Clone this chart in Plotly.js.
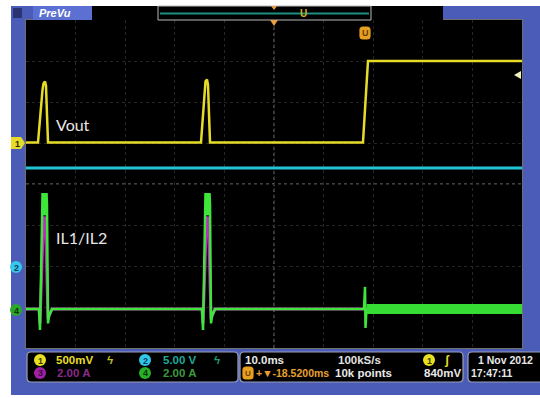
<!DOCTYPE html>
<html><head><meta charset="utf-8">
<script src="https://cdn.plot.ly/plotly-3.0.1.min.js"></script>
<style>html,body{margin:0;padding:0;background:#fff;}#chart{width:540px;height:398px;}</style>
</head><body><div id="chart"></div>
<script>
// ---- data (time in ms, 10 ms/div; amplitude in divisions) ----
const timeVout = [0, 2.42, 3.33, 3.53, 3.83, 4.03, 4.23, 4.44, 35.28, 35.99, 36.19, 36.49, 36.69, 36.9, 37.1, 67.94, 68.95, 100];
const vout     = [1.01, 1.01, 2.3, 2.45, 2.5, 2.4, 1.7, 1.01, 1.01, 2.35, 2.5, 2.55, 2.42, 1.7, 1.01, 1.01, 3.0, 3.0];
const timeCh2  = [0, 100];
const ch2      = [0.39, 0.39];
const timeIL3  = [0, 2.62, 2.82, 3.53, 3.73, 3.93, 4.44, 4.64, 5.24, 35.48, 35.69, 36.39, 36.59, 36.8, 37.3, 37.5, 38.1, 100];
const il3      = [-3.05, -3.05, -3.4, -0.85, -0.8, -0.9, -3.3, -3.22, -3.05, -3.05, -3.4, -0.85, -0.8, -0.9, -3.3, -3.22, -3.05, -3.05];
const timeIL4  = [0, 2.62, 2.82, 3.33, 3.43, 3.53, 3.63, 3.73, 3.83, 3.93, 4.03, 4.13, 4.23, 4.44, 4.64, 5.24,
                  35.48, 35.69, 36.19, 36.29, 36.39, 36.49, 36.59, 36.69, 36.8, 36.9, 37.0, 37.1, 37.3, 37.5, 38.1,
                  68.15, 68.35, 68.45, 68.65];
const il4      = [-3.05, -3.05, -3.56, -0.22, -0.76, -0.22, -0.76, -0.22, -0.76, -0.22, -0.76, -0.22, -0.5, -3.4, -3.22, -3.05,
                  -3.05, -3.56, -0.22, -0.76, -0.22, -0.76, -0.22, -0.76, -0.22, -0.76, -0.22, -0.5, -3.4, -3.22, -3.05,
                  -3.05, -2.51, -3.51, -3.05];
const timeIL4Noisy = [68.65, 100];
const il4Noisy     = [-3.05, -3.05];
const traceLabels  = ['Vout', 'IL1/IL2'];

// ---- geometry helpers (pixel -> paper) ----
const L = 26, R = 522, T = 20, B = 348;
const fx = p => (p - L) / (R - L);
const fy = p => (B - p) / (B - T);
const BLUE = '#4a5cb8';
function rect(x0, y0, x1, y1, fill, line, lw) {
  return {type:'rect', xref:'paper', yref:'paper', x0:fx(x0), x1:fx(x1), y0:fy(y1), y1:fy(y0),
    fillcolor:fill || 'rgba(0,0,0,0)', line:{color:line || 'rgba(0,0,0,0)', width:lw || 0}, layer:'above'};
}
function rrect(x0, y0, x1, y1, r, fill, line) {
  const P = (x, y) => fx(x) + ',' + fy(y);
  const d = 'M' + P(x0 + r, y0) + ' L' + P(x1 - r, y0) + ' Q' + P(x1, y0) + ' ' + P(x1, y0 + r) +
    ' L' + P(x1, y1 - r) + ' Q' + P(x1, y1) + ' ' + P(x1 - r, y1) + ' L' + P(x0 + r, y1) +
    ' Q' + P(x0, y1) + ' ' + P(x0, y1 - r) + ' L' + P(x0, y0 + r) + ' Q' + P(x0, y0) + ' ' + P(x0 + r, y0) + ' Z';
  return {type:'path', xref:'paper', yref:'paper', path:d, fillcolor:fill, line:{color:line, width:1.2}, layer:'above'};
}
function circ(cx, cy, r, fill) {
  return {type:'circle', xref:'paper', yref:'paper', x0:fx(cx - r), x1:fx(cx + r), y0:fy(cy + r), y1:fy(cy - r),
    fillcolor:fill, line:{width:0}, layer:'above'};
}
function poly(pts, fill) {
  const d = 'M' + pts.map(p => fx(p[0]) + ',' + fy(p[1])).join(' L') + ' Z';
  return {type:'path', xref:'paper', yref:'paper', path:d, fillcolor:fill, line:{width:0}, layer:'above'};
}
function hline(x0, x1, y, color, w, dash) {
  return {type:'line', xref:'paper', yref:'paper', x0:fx(x0), x1:fx(x1), y0:fy(y), y1:fy(y),
    line:{color:color, width:w, dash:dash || 'solid'}, layer:'above'};
}
const SF = 'Liberation Sans, Arial, sans-serif';
function txt(x, y, text, color, size, extra) {
  return Object.assign({xref:'paper', yref:'paper', x:fx(x), y:fy(y), text:text, showarrow:false,
    xanchor:'left', yanchor:'middle', borderpad:0, font:{family:SF, size:size || 11.5, color:color, weight:'bold'}}, extra || {});
}
function ntxt(x, y, text, color, size) {
  return txt(x, y, text, color, size, {font:{family:SF, size:size, color:color, weight:'normal'}});
}
function ctxt(x, y, text, color, size) {
  return txt(x, y, text, color, size, {xanchor:'center', font:{family:SF, size:size || 9, color:color, weight:'bold'}});
}

const traces = [
  {x:timeCh2, y:ch2, mode:'lines', line:{color:'#22c4d8', width:3}, hoverinfo:'skip'},
  {x:timeIL3, y:il3, mode:'lines', line:{color:'#c02cc0', width:3}, hoverinfo:'skip'},
  {x:timeIL4, y:il4, mode:'lines', line:{color:'#3ee63a', width:2.5}, hoverinfo:'skip'},
  {x:timeIL4Noisy, y:il4Noisy, mode:'lines', line:{color:'#36dc34', width:10}, hoverinfo:'skip'},
  {x:timeVout, y:vout, mode:'lines', line:{color:'#e6dc28', width:2.5}, hoverinfo:'skip'}
];

const shapes = [
  // white outer margins
  rect(0, 0, 11, 398, '#ffffff'),
  rect(0, 0, 540, 6, '#ffffff'),
  rect(0, 395, 540, 398, '#ffffff'),
  // header
  rect(92, 6, 443, 20, '#000000'),
  rect(33, 6, 92, 20, '#5b70d2'),
  rect(158, 6, 371, 20, '#000000', '#b8b8b8', 1),
  hline(160, 369, 13.5, '#1d8f82', 2),
  rect(13, 8, 22, 18, '#2a3470'),
  // center graticule lines
  {type:'line', xref:'x', yref:'paper', x0:50, x1:50, y0:0, y1:1, line:{color:'#808080', width:1, dash:'dot'}, layer:'below'},
  {type:'line', xref:'paper', yref:'y', x0:0, x1:1, y0:0, y1:0, line:{color:'#808080', width:1, dash:'dot'}, layer:'below'},
  // trigger position marker (top)
  poly([[270, 20], [278, 20], [274, 26]], '#e8a040'),
  poly([[271, 6], [277, 6], [274, 10]], '#e8a040'),
  // trigger level marker (right)
  poly([[521, 71], [521, 79], [514, 75]], '#f2efc0'),
  // left channel markers
  poly([[11, 137], [21, 137], [25, 143], [21, 149], [11, 149]], '#e6dc28'),
  circ(16, 267, 6, '#36c8ea'),
  circ(16, 310, 6, '#2aa82a'),
  // orange U marker in plot
  rrect(360, 27, 370, 39, 3, '#e8a020', '#e8a020'),
  // bottom panel boxes
  rrect(27, 352, 238, 382, 4, '#000000', '#9aa0b8'),
  rrect(240, 352, 463, 382, 4, '#000000', '#9aa0b8'),
  rrect(468, 352, 548, 382, 4, '#000000', '#9aa0b8'),
  circ(40, 360, 6, '#e8e020'),
  circ(40, 373, 6, '#a020a8'),
  circ(145, 360, 6, '#30c8e8'),
  circ(145, 373, 6, '#28b028'),
  rrect(243, 367, 253, 379, 3, '#e8a020', '#e8a020'),
  circ(429, 360, 6, '#e8e020')
];

const annotations = [
  txt(38, 13, '<i>PreVu</i>', '#ffffff', 11),
  ctxt(303, 13.5, 'U', '#d8b020', 10),
  ctxt(365, 33.5, 'U', '#6a3c00', 9),
  ctxt(17.5, 143.5, '1', '#2a2a00', 9),
  ctxt(16, 267.5, '2', '#0a3a60', 9),
  ctxt(16, 310.5, '4', '#0a300a', 9),
  txt(55, 125, traceLabels[0], '#e8e8e8', 16, {font:{family:'Lato, sans-serif', size:16, color:'#e8e8e8'}}),
  txt(55, 237, traceLabels[1], '#e8e8e8', 16, {font:{family:'Lato, sans-serif', size:16, color:'#e8e8e8'}}),
  // bottom panel texts
  ctxt(40, 360.5, '1', '#3a3a00', 9),
  ctxt(40, 373.5, '3', '#3a0a3a', 9),
  ctxt(145, 360.5, '2', '#0a3a60', 9),
  ctxt(145, 373.5, '4', '#0a300a', 9),
  txt(55, 360, '500mV', '#e6dc28'),
  txt(106, 360, 'ϟ', '#c8c020'),
  txt(162, 360, '5.00 V', '#1fa898'),
  txt(213, 360, 'ϟ', '#1fa070'),
  txt(56, 373, '2.00 A', '#8a2a8a'),
  txt(162, 373, '2.00 A', '#3a9a3a'),
  txt(244, 360, '10.0ms', '#e8e8e8'),
  txt(337, 360, '100kS/s', '#e0e0e0'),
  ctxt(248, 373.5, 'U', '#6a3c00', 8),
  txt(255, 373, '+▼-18.5200ms', '#e8a030', 10.5),
  txt(334, 373, '10k points', '#e8e8e8', 11.5),
  ctxt(429, 360.5, '1', '#3a3a00', 9),
  txt(443, 360, 'ʃ', '#e6dc28', 12),
  txt(423, 373, '840mV', '#e8e8e8'),
  txt(477, 360, '1 Nov 2012', '#e8e8e8', 10.5),
  txt(470, 373, '17:47:11', '#e8e8e8', 10.5)
];

const layout = {
  width:540, height:398,
  margin:{l:L, r:540 - R, t:T, b:398 - B, pad:0},
  paper_bgcolor:BLUE, plot_bgcolor:'#000000',
  showlegend:false,
  xaxis:{range:[0, 100], dtick:10, tick0:0, showticklabels:false, ticks:'', zeroline:false,
    showgrid:true, gridcolor:'#262626', griddash:'dot', gridwidth:1,
    showline:true, mirror:true, linecolor:'#707070', linewidth:1, fixedrange:true},
  yaxis:{range:[-4, 4], dtick:1, tick0:0, showticklabels:false, ticks:'', zeroline:false,
    showgrid:true, gridcolor:'#262626', griddash:'dot', gridwidth:1,
    showline:true, mirror:true, linecolor:'#707070', linewidth:1, fixedrange:true},
  shapes:shapes,
  annotations:annotations
};
Plotly.newPlot('chart', traces, layout, {staticPlot:true, displayModeBar:false});
</script>
</body></html>
